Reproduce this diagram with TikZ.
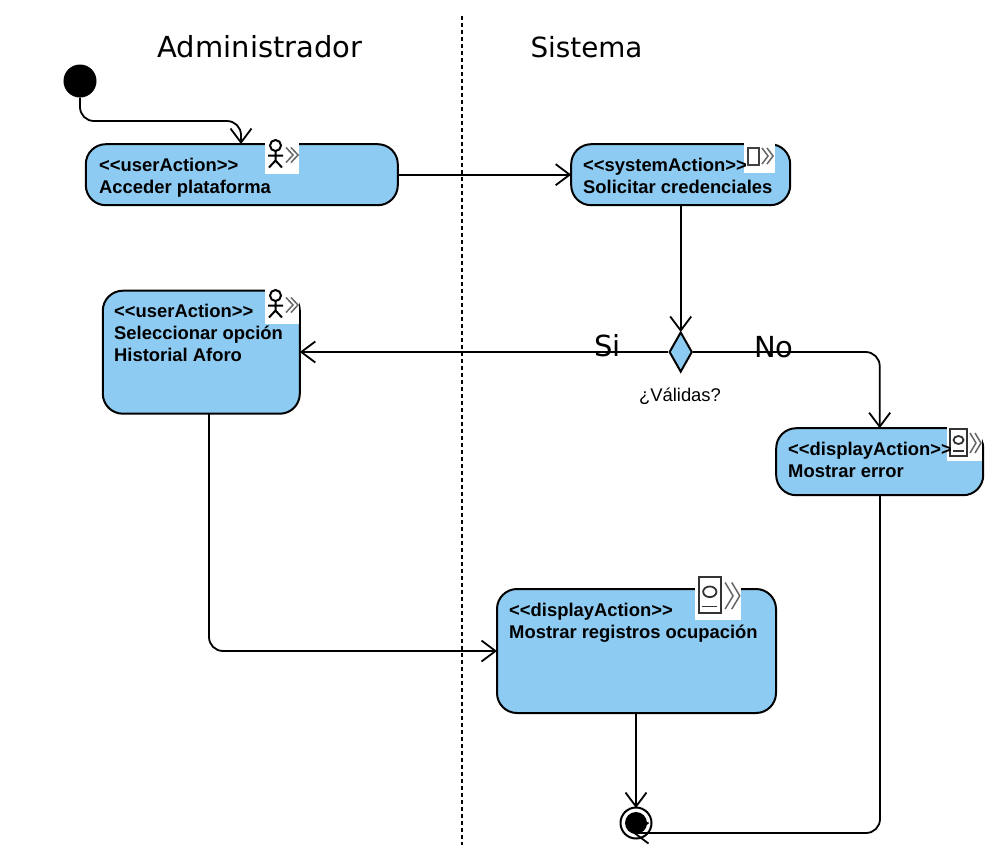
\documentclass[tikz,border=0pt]{standalone}
\usepackage{fontspec}
\setmainfont{Liberation Sans}
\newfontfamily\titlefont{DejaVu Sans}
\usetikzlibrary{arrows.meta,shapes.geometric}
\definecolor{actfill}{HTML}{8DCBF2}
\definecolor{chev}{HTML}{666666}
\tikzset{
  x=1pt,y=-1pt,
  actbox/.style={draw=black,line width=2pt,fill=actfill,rounded corners=20pt,inner sep=0pt},
  acttext/.style={anchor=north west,inner sep=0pt,align=left,font=\fontsize{18.4}{22}\selectfont\bfseries,text=black},
  title/.style={inner sep=0pt,font=\titlefont\fontsize{29}{34}\selectfont,text=black},
  edge/.style={draw=black,line width=1.8pt,rounded corners=14pt,shorten >=-1pt,-{Straight Barb[length=14pt,width=21pt,line width=1.8pt]}},
  chevron/.style={draw=chev,line width=1.5pt,line join=miter},
  pics/actoricon/.style={code={
    \fill[white] (0,0) rectangle (34,35);
    \draw[black,line width=2pt] (10.5,7) circle (5.5);
    \draw[black,line width=2pt] (10.5,12) -- (10.5,22) (3,17) -- (18,17) (4,29) -- (10.5,22) -- (17,29);
    \draw[chevron] (21,9) -- (28,16.5) -- (21,24) (26,9) -- (33,16.5) -- (26,24);
  }},
  pics/sysicon/.style={code={
    \fill[white] (0,0) rectangle (31,30);
    \draw[black!75,line width=1.6pt] (4,5) rectangle (15,22);
    \draw[chevron] (18,5) -- (24,13) -- (18,21) (23,5) -- (29,13) -- (23,21);
  }},
  pics/dispicon/.style={code={
    \fill[white] (0,0) rectangle (35,34);
    \draw[black!80,line width=2pt] (3,2) rectangle (20,29);
    \draw[black!80,line width=1.8pt] (11.5,13) ellipse (5 and 4);
    \draw[black!80,line width=1.8pt] (6,24) -- (17,24);
    \draw[chevron] (23,6) -- (29,16) -- (23,26) (28,6) -- (34,16) -- (28,26);
  }},
}
\begin{document}
\begin{tikzpicture}
\useasboundingbox (0,0) rectangle (995,847);
\fill[white] (0,0) rectangle (995,847);

% swimlane divider
\coordinate (laneTop) at (462,16);
\coordinate (laneBot) at (462,845);
\draw[black,line width=1.6pt,dash pattern=on 3.5pt off 3.5pt] (laneTop) -- (laneBot);

\node[title] (tAdmin) at (260,47) {Administrador};
\node[title,font=\titlefont\fontsize{27.8}{34}\selectfont] (tSis) at (586.5,47) {Sistema};

% nodes
\node[circle,fill=black,draw=black,line width=1pt,minimum size=32pt,inner sep=0pt] (init) at (80,81) {};
\node[actbox,minimum width=312pt,minimum height=61pt] (acc) at (241.8,174.7) {};
\node[actbox,minimum width=219pt,minimum height=61pt] (sol) at (680.7,174.7) {};
\node[actbox,minimum width=197pt,minimum height=123pt] (sel) at (201.3,352.2) {};
\node[actbox,minimum width=207pt,minimum height=67pt] (err) at (879.7,461.7) {};
\node[actbox,minimum width=279pt,minimum height=124pt] (reg) at (636.5,651) {};
\node[diamond,draw=black,line width=2pt,fill=actfill,minimum width=23pt,minimum height=40pt,inner sep=0pt] (dec) at (680.7,352) {};

% final node
\node[circle,draw=black,line width=2pt,fill=white,minimum size=31pt,inner sep=0pt] (fin) at (636,823) {};
\node[circle,fill=black,minimum size=22pt,inner sep=0pt] (finIn) at (636,823) {};

% connectors
\coordinate (c1) at (80,121);
\coordinate (c2) at (241,121);
\coordinate (c2e) at (241,143);
\draw[edge] (init.south) -- (c1) -- (c2) -- (c2e);
\draw[edge] (acc.east) -- (sol.west);
\draw[edge] (sol.south) -- (dec.north);
\draw[edge] (dec.west) -- (sel.east |- dec.west);
\coordinate (c3) at (879.7,352);
\draw[edge] (dec.east) -- (c3) -- (err.north);
\coordinate (c4) at (209,414);
\coordinate (c5) at (209,651);
\draw[edge] (c4) -- (c5) -- (reg.west);
\coordinate (c6) at (636,807);
\draw[edge] (reg.south -| c6) -- (c6);
\coordinate (c7) at (880,495);
\coordinate (c8) at (880,833);
\coordinate (c9) at (634,833);
\draw[edge] (c7) -- (c8) -- (c9);

% icons
\pic at (265,138.5) {actoricon};
\pic at (265,288.5) {actoricon};
\pic at (744,143) {sysicon};
\pic at (947,427) {dispicon};
\pic[scale=1.33] at (694.5,574.5) {dispicon};

% texts
\node[acttext] (tacc) at (99,158) {<{}<userAction>{}>\\Acceder plataforma};
\node[acttext] (tsol) at (583,158) {<{}<systemAction>{}>\\Solicitar credenciales};
\node[acttext] (tsel) at (114,304) {<{}<userAction>{}>\\Seleccionar opción\\Historial Aforo};
\node[acttext] (terr) at (788,441.5) {<{}<displayAction>{}>\\Mostrar error};
\node[acttext] (treg) at (509,603) {<{}<displayAction>{}>\\Mostrar registros ocupación};

\node[title] (si) at (607.5,346) {Si};
\node[title] (no) at (774,347.5) {No};
\node[inner sep=0pt,font=\fontsize{18.4}{22}\selectfont,text=black] (val) at (680,396) {¿Válidas?};
\end{tikzpicture}
\end{document}
